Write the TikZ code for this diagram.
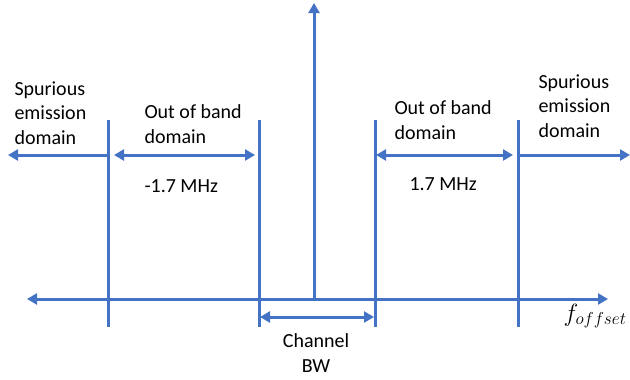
\documentclass[tikz,border=0pt]{standalone}
\usepackage{fontspec}
\setmainfont{Carlito}
\usetikzlibrary{arrows.meta}
\definecolor{bandblue}{RGB}{68,114,196}

\begin{document}
\begin{tikzpicture}[x=1pt,y=-1pt,
    line width=3pt, draw=bandblue,
    >={Triangle[length=10pt,width=11pt]},
    lbl/.style={inner sep=0pt,align=left,anchor=base west,font=\fontsize{20}{24.4}\selectfont},
    clbl/.style={lbl,align=center,anchor=base}]
    \useasboundingbox (0,0) rectangle (630,380);
    % frequency axis and carrier
    \coordinate (axl) at (27,299);
    \coordinate (axr) at (608,299);
    \coordinate (car) at (314,299);
    \coordinate (cartop) at (314,3);
    \draw[<->] (axl) -- (axr);
    \draw[->] (car) -- (cartop);
    % domain borders
    \foreach \x/\n in {108/sl,259/ol,375/or,518/sr}{
      \coordinate (\n top) at (\x,120);
      \coordinate (\n bot) at (\x,327);
      \draw (\n top) -- (\n bot);
    }
    % domain arrows
    \coordinate (sptipl) at (8,155);
    \coordinate (sptipr) at (630,155);
    \draw[->] (108,155) -- (sptipl);
    \draw[<->] (114,155) -- (255,155);
    \draw[<->] (376,155) -- (513,155);
    \draw[->] (518,155) -- (sptipr);
    \draw[<->] (260,317) -- (374,317);
    % labels (base = last line)
    \node[lbl] (spl) at (13,144) {Spurious\\emission\\domain};
    \node[lbl] (oobl) at (143,143) {Out of band\\domain};
    \node[lbl] (offl) at (143,192) {-1.7 MHz};
    \node[lbl] (oobr) at (393,139) {Out of band\\domain};
    \node[lbl] (offr) at (408,190) {1.7 MHz};
    \node[lbl] (spr) at (537,137) {Spurious\\emission\\domain};
    \node[clbl] (bw) at (316,372) {Channel\\BW};
    \node[lbl] (fo) at (562,321) {\fontsize{25}{30}\selectfont$f_{offset}$};
\end{tikzpicture}
\end{document}
